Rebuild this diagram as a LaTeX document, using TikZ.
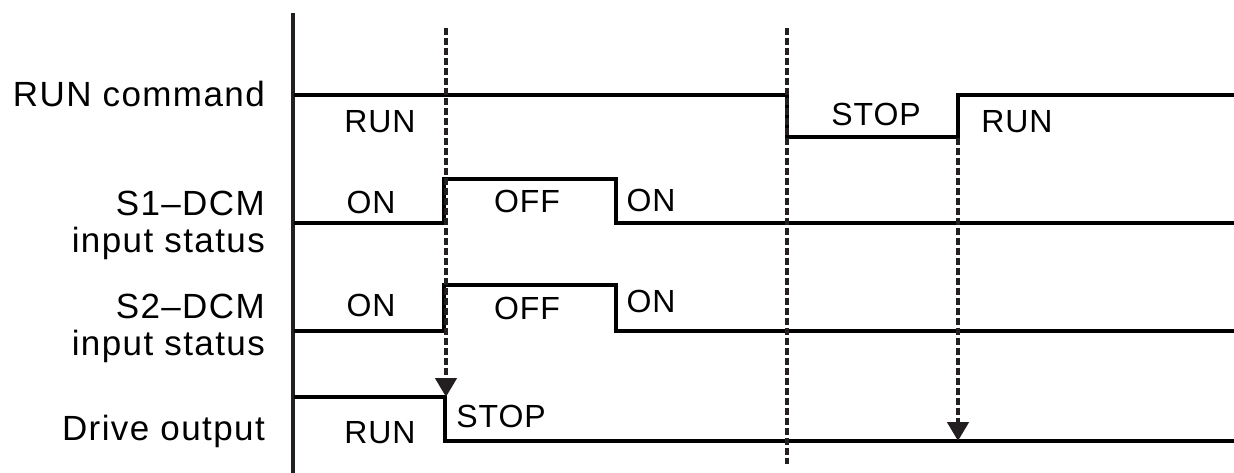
\documentclass[tikz,border=0pt]{standalone}
\usepackage{fontspec}
\setmainfont{Liberation Sans}
\usetikzlibrary{arrows.meta}
\begin{document}
\begin{tikzpicture}[x=1pt,y=-1pt,
  sig/.style={line width=3.5pt,line join=miter},
  axisline/.style={line width=3.5pt,draw={rgb,255:red,35;green,31;blue,32}},
  guide/.style={line width=4.5pt,draw={rgb,255:red,35;green,31;blue,32},dash pattern=on 7pt off 3pt},
  tip/.style={-{Triangle[width=21pt,length=19pt]}},
  rowlab/.style={anchor=base east,inner sep=0pt,font=\fontsize{35}{40}\selectfont\addfontfeature{LetterSpace=4}},
  val/.style={anchor=base,inner sep=0pt,font=\fontsize{32}{36}\selectfont\addfontfeature{LetterSpace=3}}]
\useasboundingbox (0,0) rectangle (1234,473);
% axis
\coordinate (axT) at (293,13);
\coordinate (axB) at (293,473);
\draw[axisline] (axT) -- (axB);
% row labels
\node[rowlab] (lRun) at (265,107) {RUN command};
\node[rowlab] (lS1a) at (265,215) {S1--DCM};
\node[rowlab] (lS1b) at (265,252) {input status};
\node[rowlab] (lS2a) at (265,318) {S2--DCM};
\node[rowlab] (lS2b) at (265,355) {input status};
\node[rowlab] (lDrv) at (265,440) {Drive output};
% signals
\draw[sig] (294,95) -- (787,95) -- (787,137) -- (958,137) -- (958,95) -- (1234,95);
\draw[sig] (294,223) -- (444,223) -- (444,179) -- (616,179) -- (616,223) -- (1234,223);
\draw[sig] (294,331) -- (444,331) -- (444,285) -- (616,285) -- (616,331) -- (1234,331);
\draw[sig] (294,397) -- (445,397) -- (445,441) -- (1234,441);
% guide lines
\coordinate (g1t) at (446,28);
\coordinate (g1b) at (446,397);
\coordinate (g2t) at (787,28);
\coordinate (g2b) at (787,464);
\coordinate (g3t) at (958,138);
\coordinate (g3b) at (958,441);
\draw[guide,tip] (g1t) -- (g1b);
\draw[guide] (g2t) -- (g2b);
\draw[guide,tip] (g3t) -- (g3b);
% values
\node[val] (vRun1) at (380,133) {RUN};
\node[val] (vStop1) at (876,126) {STOP};
\node[val] (vRun2) at (1017,133) {RUN};
\node[val] (vS1on1) at (371,214) {ON};
\node[val] (vS1off) at (527,213) {OFF};
\node[val] (vS1on2) at (651,212) {ON};
\node[val] (vS2on1) at (371,316) {ON};
\node[val] (vS2off) at (527,319) {OFF};
\node[val] (vS2on2) at (651,312) {ON};
\node[val] (vRun3) at (380,443) {RUN};
\node[val] (vStop2) at (501,427) {STOP};
\end{tikzpicture}
\end{document}
